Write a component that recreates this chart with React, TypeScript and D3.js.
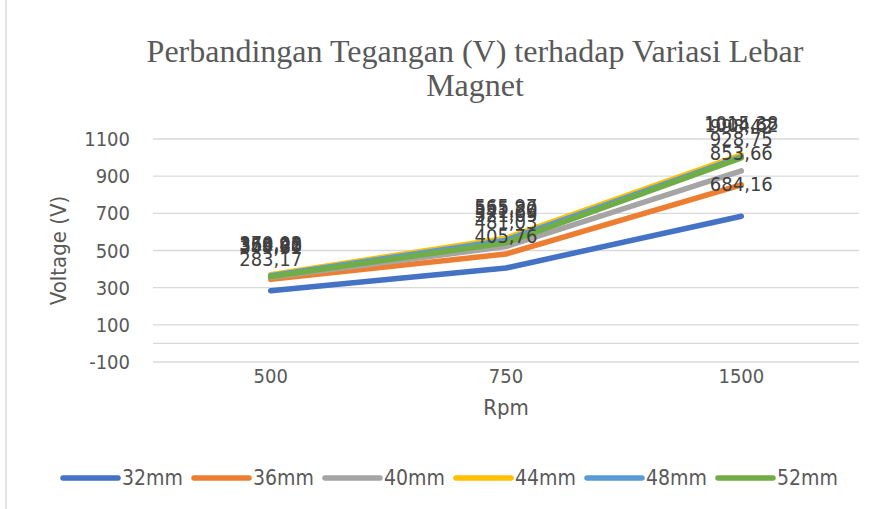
import * as d3 from 'd3'

const categories = ['500', '750', '1500']
const seriesNames = ['32mm', '36mm', '40mm', '44mm', '48mm', '52mm']
const v32 = [283.17, 405.76, 684.16]
const v36 = [344.61, 481.03, 853.66]
const v40 = [355.28, 521.09, 928.75]
const v44 = [370.03, 565.97, 1015.38]
const v48 = [364.92, 555.2, 1004.62]
const v52 = [359.4, 541.69, 998.42]
const yTicks = [-100, 100, 300, 500, 700, 900, 1100]
const colors = ['#4472C4', '#ED7D31', '#A5A5A5', '#FFC000', '#5B9BD5', '#70AD47']

const W = 877
const H = 509
const sans = '"Liberation Sans Narrow", "DejaVu Sans Condensed", "Liberation Sans", sans-serif'
const serif = '"Liberation Serif", "Times New Roman", serif'

export default function App() {
    const series = [v32, v36, v40, v44, v48, v52]
    const x = d3.scaleBand().domain(categories).range([153, 859])
    const y = d3.scaleLinear().domain([-100, 1100]).range([362, 139])
    const cx = (c: string) => (x(c) ?? 0) + x.bandwidth() / 2
    const line = d3.line<number>()
        .x((d, i) => cx(categories[i]))
        .y(d => y(d))
    const fmt = (v: number) => d3.format('.2f')(v).replace('.', ',')

    return (
        <svg width={W} height={H} style={{ position: 'absolute', left: 0, top: 0, background: '#fff' }}>
            <line x1={6} x2={6} y1={0} y2={H} stroke="#d9d9d9" strokeWidth={1.5} />
            <text x={475} y={62} textAnchor="middle" fontFamily={serif} fontSize={32} fill="#595959">
                Perbandingan Tegangan (V) terhadap Variasi Lebar
            </text>
            <text x={475} y={96} textAnchor="middle" fontFamily={serif} fontSize={32} fill="#595959">
                Magnet
            </text>
            {/* grid */}
            {yTicks.map(t => (
                <g key={t}>
                    <line x1={153} x2={859} y1={y(t)} y2={y(t)} stroke="#d9d9d9" strokeWidth={1.3} />
                    <text x={130} y={y(t) + 7} textAnchor="end" fontFamily={sans} fontSize={20} fill="#595959">{t}</text>
                </g>
            ))}
            <line x1={153} x2={859} y1={y(0)} y2={y(0)} stroke="#d9d9d9" strokeWidth={1.3} />
            {categories.map(c => (
                <text key={c} x={cx(c)} y={383} textAnchor="middle" fontFamily={sans} fontSize={20} fill="#595959">{c}</text>
            ))}
            <text x={cx('750')} y={415} textAnchor="middle" fontFamily={sans} fontSize={22} fill="#595959">Rpm</text>
            <text transform={`translate(66,${y(500)}) rotate(-90)`} textAnchor="middle" fontFamily={sans} fontSize={22} fill="#595959">Voltage (V)</text>
            {/* series */}
            {series.map((s, i) => (
                <path key={seriesNames[i]} d={line(s) ?? ''} fill="none" stroke={colors[i]} strokeWidth={5.5} strokeLinecap="round" strokeLinejoin="round" />
            ))}
            {series.map((s, i) => s.map((v, j) => (
                <text key={seriesNames[i] + j} x={cx(categories[j])} y={y(v) - 25} textAnchor="middle" fontFamily={sans} fontSize={20} fill="#404040">{fmt(v)}</text>
            )))}
            {/* legend */}
            {seriesNames.map((n, i) => {
                const lx = 63 + i * 131
                return (
                    <g key={n}>
                        <line x1={lx} x2={lx + 55} y1={478} y2={478} stroke={colors[i]} strokeWidth={5.5} strokeLinecap="round" />
                        <text x={lx + 59} y={485} fontFamily={sans} fontSize={21} fill="#595959">{n}</text>
                    </g>
                )
            })}
        </svg>
    )
}
